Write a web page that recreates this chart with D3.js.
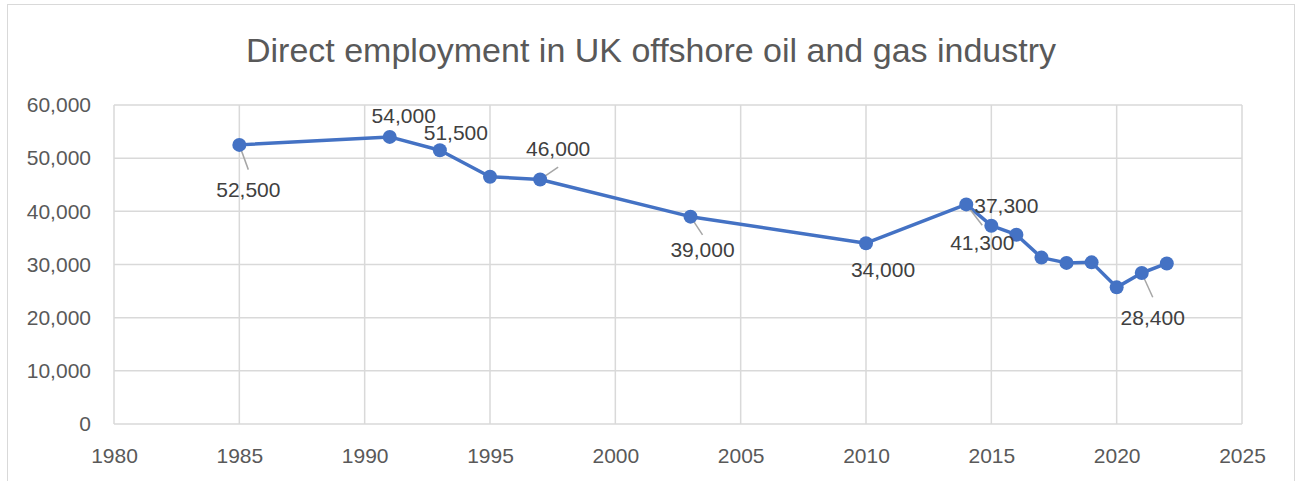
<!DOCTYPE html>
<html>
<head>
<meta charset="utf-8">
<script src="https://cdn.jsdelivr.net/npm/d3@7"></script>
<style>
  body { margin: 0; background: #fff; }
  svg { display: block; font-family: "Liberation Sans", Arial, sans-serif; }
</style>
</head>
<body>
<svg id="grafico"></svg>
<script>
// datos
const titulo = "Direct employment in UK offshore oil and gas industry";
const anios = [1985, 1991, 1993, 1995, 1997, 2003, 2010, 2014, 2015, 2016, 2017, 2018, 2019, 2020, 2021, 2022];
const empleo = [52500, 54000, 51500, 46500, 46000, 39000, 34000, 41300, 37300, 35600, 31300, 30300, 30400, 25700, 28400, 30200];
const aniosEtiquetados = [1985, 1991, 1993, 1997, 2003, 2010, 2014, 2015, 2021];
const ticksX = [1980, 1985, 1990, 1995, 2000, 2005, 2010, 2015, 2020, 2025];
const ticksY = [0, 10000, 20000, 30000, 40000, 50000, 60000];

// desplazamiento de cada etiqueta respecto a su punto (dx, dy, linea guia)
const posEtiquetas = {
    1985: [9, 45, true],
    1991: [14, -21, false],
    1993: [16, -18, false],
    1997: [18, -31, true],
    2003: [12, 33, true],
    2010: [17, 26, false],
    2014: [16, 38, true],
    2015: [15, -20, false],
    2021: [11, 44, true]
};

const ancho = 1301, alto = 481;
const margin = { top: 105, right: 59, bottom: 57, left: 114 };
const width = ancho - margin.left - margin.right,
    height = alto - margin.top - margin.bottom;

const gris = "#595959", rejilla = "#d9d9d9", azul = "#4472c4";

const svg = d3.select("#grafico")
    .attr("width", ancho)
    .attr("height", alto);

// marco exterior
svg.append("rect")
    .attr("x", 7.5).attr("y", 4.5)
    .attr("width", 1287).attr("height", 500)
    .attr("fill", "#fff")
    .attr("stroke", rejilla)
    .attr("stroke-width", 1);

svg.append("text")
    .attr("x", 651)
    .attr("y", 62)
    .attr("text-anchor", "middle")
    .attr("fill", gris)
    .style("font-size", "34px")
    .text(titulo);

const g = svg.append("g")
    .attr("transform", "translate(" + margin.left + "," + margin.top + ")");

const x = d3.scaleLinear().domain([1980, 2025]).range([0, width]);
const y = d3.scaleLinear().domain([0, 60000]).range([height, 0]);

// rejilla
g.append("g")
    .selectAll("line")
    .data(ticksY)
    .join("line")
    .attr("x1", 0).attr("x2", width)
    .attr("y1", d => y(d)).attr("y2", d => y(d))
    .attr("stroke", rejilla).attr("stroke-width", 1.5);
g.append("g")
    .selectAll("line")
    .data(ticksX)
    .join("line")
    .attr("y1", 0).attr("y2", height)
    .attr("x1", d => x(d)).attr("x2", d => x(d))
    .attr("stroke", rejilla).attr("stroke-width", 1.5);

// ejes
const ejeX = g.append("g")
    .attr("transform", "translate(0," + height + ")")
    .call(d3.axisBottom(x).tickValues(ticksX).tickFormat(d3.format("d")).tickSize(0).tickPadding(24));
const ejeY = g.append("g")
    .call(d3.axisLeft(y).tickValues(ticksY).tickFormat(d3.format(",")).tickSize(0).tickPadding(23));
[ejeX, ejeY].forEach(eje => {
    eje.select(".domain").remove();
    eje.selectAll("text")
        .attr("fill", gris)
        .style("font-size", "21px")
        .style("font-family", "'Liberation Sans', Arial, sans-serif");
});

const puntos = anios.map((a, i) => ({ anio: a, valor: empleo[i] }));

g.append("path")
    .datum(puntos)
    .attr("fill", "none")
    .attr("stroke", azul)
    .attr("stroke-width", 3.5)
    .attr("stroke-linejoin", "round")
    .attr("d", d3.line()
        .x(function (d) { return x(d.anio) })
        .y(function (d) { return y(d.valor) })
    );

// lineas guia de las etiquetas
const etiquetas = puntos.filter(d => aniosEtiquetados.includes(d.anio));
g.append("g")
    .selectAll("line")
    .data(etiquetas.filter(d => posEtiquetas[d.anio][2]))
    .join("line")
    .attr("x1", d => x(d.anio))
    .attr("y1", d => y(d.valor))
    .attr("x2", d => x(d.anio) + posEtiquetas[d.anio][0])
    .attr("y2", d => y(d.valor) + posEtiquetas[d.anio][1] * (posEtiquetas[d.anio][1] > 0 ? 0.55 : 0.4))
    .attr("stroke", "#a6a6a6")
    .attr("stroke-width", 1.5);

g.append("g")
    .selectAll("circle")
    .data(puntos)
    .join("circle")
    .attr("cx", d => x(d.anio))
    .attr("cy", d => y(d.valor))
    .attr("r", 7)
    .attr("fill", azul);

g.append("g")
    .selectAll("text")
    .data(etiquetas)
    .join("text")
    .attr("x", d => x(d.anio) + posEtiquetas[d.anio][0])
    .attr("y", d => y(d.valor) + posEtiquetas[d.anio][1])
    .attr("dy", "0.36em")
    .attr("text-anchor", "middle")
    .attr("fill", "#404040")
    .style("font-size", "21px")
    .text(d => d3.format(",")(d.valor));
</script>
</body>
</html>
